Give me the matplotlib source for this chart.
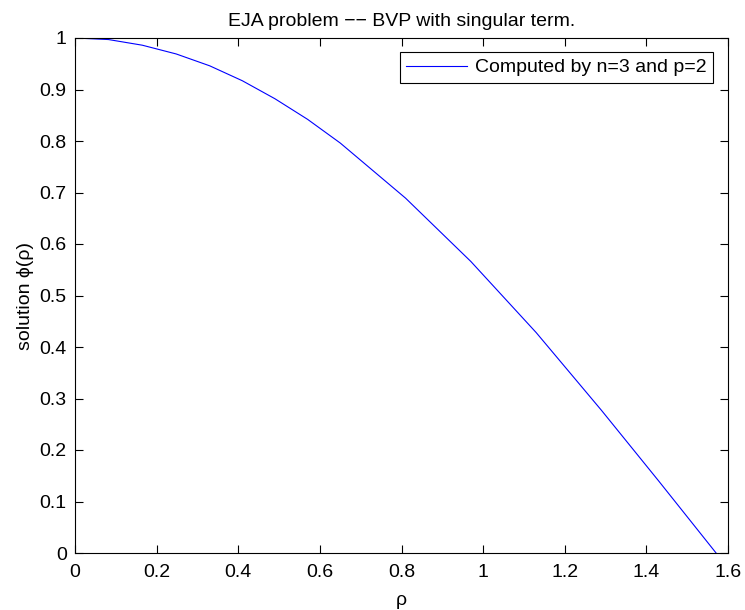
import matplotlib
matplotlib.use("Agg")
import matplotlib.pyplot as plt

plt.rcParams['font.family'] = ['Liberation Sans', 'DejaVu Sans']

rho = [0.0, 0.082, 0.165, 0.248, 0.33, 0.41, 0.49, 0.57, 0.65, 0.81, 0.97, 1.13, 1.29, 1.43, 1.5708]
phi = [1.0, 0.997, 0.986, 0.969, 0.946, 0.917, 0.882, 0.842, 0.796, 0.689, 0.566, 0.428, 0.277, 0.140, 0.0]

xticks = [0, 0.2, 0.4, 0.6, 0.8, 1, 1.2, 1.4, 1.6]
xticklabels = ['0', '0.2', '0.4', '0.6', '0.8', '1', '1.2', '1.4', '1.6']
yticks = [0, 0.1, 0.2, 0.3, 0.4, 0.5, 0.6, 0.7, 0.8, 0.9, 1]
yticklabels = ['0', '0.1', '0.2', '0.3', '0.4', '0.5', '0.6', '0.7', '0.8', '0.9', '1']

FS = 14
W, H = 745, 610
fig = plt.figure(figsize=(W/100, H/100), dpi=100)
left, right, top, bottom = 75, 728, 38, 553
ax = fig.add_axes([left/W, 1 - bottom/H, (right-left)/W, (bottom-top)/H])

ax.plot(rho, phi, color='#0000ff', linewidth=0.8, label='Computed by n=3 and p=2')
ax.set_xlim(0, 1.6)
ax.set_ylim(0, 1)
ax.set_xticks(xticks)
ax.set_xticklabels(xticklabels)
ax.set_yticks(yticks)
ax.set_yticklabels(yticklabels)
ax.tick_params(direction='in', length=6, width=0.8, top=True, right=True,
               labelsize=FS, colors='black')
ax.tick_params(axis='x', pad=8)
ax.tick_params(axis='y', pad=6)
for s in ax.spines.values():
    s.set_linewidth(0.8)
    s.set_color('black')

ax.set_title('EJA problem −− BVP with singular term.', fontsize=FS, pad=9)
ax.set_xlabel('ρ', fontsize=FS, labelpad=8)
ax.set_ylabel('solution ϕ(ρ)', fontsize=FS, labelpad=4)

leg = ax.legend(loc='upper right', bbox_to_anchor=(0.977, 0.973), borderaxespad=0,
                fontsize=FS, handlelength=3.1, handletextpad=0.4, fancybox=False,
                framealpha=1, edgecolor='black', borderpad=0.35)
leg.get_frame().set_linewidth(0.8)

fig.savefig('out.png', dpi=100)
